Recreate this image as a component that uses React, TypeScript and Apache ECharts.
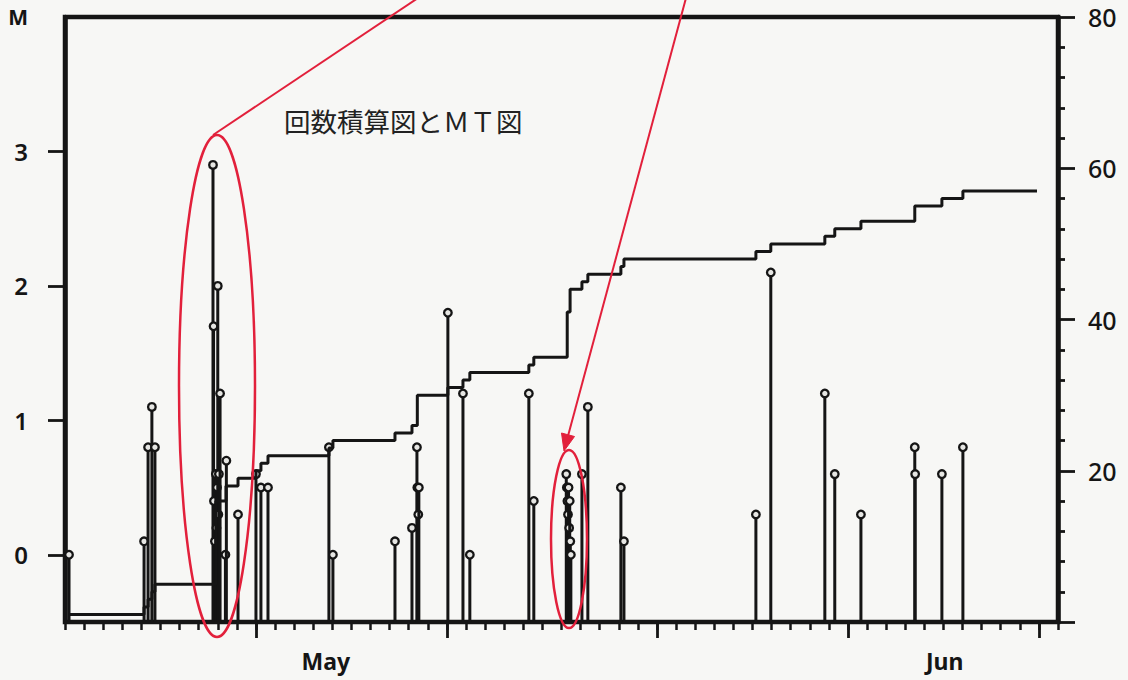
import React, { useEffect, useRef } from "react";
import * as echarts from "echarts";

// Days since May 1 (00:00) and magnitude of each event
const eventDays = [
  0.21,
  4.14, 4.35, 4.55, 4.71,
  7.75, 7.78, 7.8, 7.85, 7.9, 7.93, 7.96, 8.0, 8.03, 8.06, 8.12,
  8.4, 8.45,
  9.06,
  10.0, 10.26, 10.63,
  13.82, 14.03,
  17.28, 18.17, 18.43, 18.45, 18.5, 18.53,
  20.05, 20.84, 21.2,
  24.29, 24.55,
  26.25, 26.28, 26.31, 26.34, 26.37, 26.4, 26.43, 26.46, 26.49,
  27.07, 27.38,
  29.11, 29.27,
  36.18, 36.96, 39.79, 40.31, 41.68, 44.5, 44.52, 45.92, 47.02,
];
const eventMags = [
  0.0,
  0.1, 0.8, 1.1, 0.8,
  2.9, 1.7, 0.4, 0.1, 0.6, 0.2, 0.5, 2.0, 0.3, 0.6, 1.2,
  0.0, 0.7,
  0.3,
  0.6, 0.5, 0.5,
  0.8, 0.0,
  0.1, 0.2, 0.8, 0.5, 0.3, 0.5,
  1.8, 1.2, 0.0,
  1.2, 0.4,
  0.6, 0.5, 0.4, 0.3, 0.5, 0.2, 0.4, 0.1, 0.0,
  0.6, 1.1,
  0.5, 0.1,
  0.3, 2.1, 1.2, 0.6, 0.3, 0.8, 0.6, 0.6, 0.8,
];

// Cumulative number of events (step line, right axis)
const countDays = [
  0.21, 4.14, 4.35, 4.55, 4.71, 7.9, 8.43, 9.06, 10.0, 10.26, 10.63,
  13.82, 14.03, 17.28, 18.17, 18.45, 20.05, 20.84, 21.2, 24.29, 24.55,
  26.3, 26.45, 27.07, 27.38, 29.11, 29.27, 36.18, 36.96, 39.79, 40.31,
  41.68, 44.5, 45.92, 47.02, 50.9,
];
const countTotals = [
  1, 2, 3, 4, 5, 16, 18, 19, 20, 21, 22,
  23, 24, 25, 26, 30, 31, 32, 33, 34, 35,
  41, 44, 45, 46, 47, 48, 49, 50, 51, 52,
  53, 55, 56, 57, 57,
];

// Axes
const majorTickDays = [10, 20, 31, 41, 51];
const monthLabelDays = [13.66, 46.07];
const monthLabels = ["May", "Jun"];
const magTicks = [0, 1, 2, 3];
const magLabelValues = [0, 1, 2, 3, 4];
const countAxisMax = 80;

const INK = "#151515";
const RED = "#e2203b";
const FONT = "'Noto Sans', 'DejaVu Sans', sans-serif";

export default function App() {
  const ref = useRef<HTMLDivElement>(null);

  useEffect(() => {
    const chart = echarts.init(ref.current!, null, { renderer: "svg" });

    const arrowTip = [564, 451];
    const option: any = {
      animation: false,
      backgroundColor: "#f7f7f5",
      grid: {
        left: 65,
        right: 70,
        top: 17,
        bottom: 58,
        show: true,
        borderColor: INK,
        borderWidth: 4.5,
        backgroundColor: "transparent",
        containLabel: false,
        outerBoundsMode: "none",
      },
      xAxis: [
        {
          type: "value",
          min: 0,
          max: 52,
          interval: 1,
          position: "bottom",
          axisLine: { show: true, onZero: false, lineStyle: { color: INK, width: 4 } },
          axisTick: { show: true, length: 8, lineStyle: { color: INK, width: 2.5 } },
          axisLabel: {
            show: true,
            customValues: monthLabelDays,
            margin: 27,
            fontSize: 23,
            fontWeight: "bold",
            fontFamily: FONT,
            color: INK,
            formatter: (v: number) => {
              let best = 0;
              monthLabelDays.forEach((d, i) => {
                if (Math.abs(d - v) < Math.abs(monthLabelDays[best] - v)) best = i;
              });
              return monthLabels[best];
            },
          },
          splitLine: { show: false },
        },
        {
          type: "value",
          min: 0,
          max: 52,
          position: "bottom",
          axisLine: { show: false, onZero: false },
          axisTick: {
            show: true,
            customValues: majorTickDays,
            length: 16,
            lineStyle: { color: INK, width: 2.8 },
          },
          axisLabel: { show: false },
          splitLine: { show: false },
        },
      ],
      yAxis: [
        {
          type: "value",
          min: -0.5,
          max: 4,
          position: "left",
          axisLine: { show: true, onZero: false, lineStyle: { color: INK, width: 4.5 } },
          axisTick: {
            show: true,
            customValues: magTicks,
            length: 17,
            lineStyle: { color: INK, width: 2.8 },
          },
          axisLabel: {
            show: true,
            customValues: magLabelValues,
            margin: 37,
            fontSize: 24,
            fontFamily: FONT,
            fontWeight: 600,
            color: INK,
            formatter: (v: number) => (v === 4 ? "{m|M}" : String(v)),
            rich: {
              m: { fontSize: 21, fontWeight: "bold", fontFamily: FONT, color: INK },
            },
          },
          splitLine: { show: false },
        },
        {
          type: "value",
          min: 0,
          max: countAxisMax,
          interval: 20,
          position: "right",
          axisLine: { show: true, onZero: false, lineStyle: { color: INK, width: 4.5 } },
          axisTick: { show: true, length: 17, lineStyle: { color: INK, width: 2.8 } },
          minorTick: {
            show: true,
            splitNumber: 5,
            length: 7,
            lineStyle: { color: INK, width: 2.8 },
          },
          axisLabel: {
            show: true,
            margin: 30,
            fontSize: 25,
            fontFamily: FONT,
            fontWeight: 500,
            color: INK,
            formatter: (v: number) => (v === 0 ? "" : String(v)),
          },
          splitLine: { show: false },
          minorSplitLine: { show: false },
        },
      ],
      series: [
        {
          type: "custom",
          name: "MT",
          xAxisIndex: 0,
          yAxisIndex: 0,
          clip: false,
          z: 3,
          data: eventDays.map((d, i) => [d, eventMags[i]]),
          encode: { x: 0, y: 1 },
          renderItem: (params: any, api: any) => {
            const x = api.value(0);
            const m = api.value(1);
            const top = api.coord([x, m]);
            const base = api.coord([x, -0.5]);
            return {
              type: "group",
              children: [
                {
                  type: "line",
                  shape: { x1: top[0], y1: top[1], x2: base[0], y2: base[1] },
                  style: { stroke: INK, lineWidth: 3 },
                },
                {
                  type: "circle",
                  shape: { cx: top[0], cy: top[1], r: 3.8 },
                  style: { fill: "#e6e6e3", stroke: INK, lineWidth: 2.3 },
                },
              ],
            };
          },
        },
        {
          type: "line",
          name: "cumulative",
          xAxisIndex: 0,
          yAxisIndex: 1,
          step: "end",
          symbol: "none",
          z: 4,
          lineStyle: { color: INK, width: 3 },
          data: countDays.map((d, i) => [d, countTotals[i]]),
        },
      ],
      graphic: [
        {
          type: "text",
          x: 284,
          y: 107,
          z: 20,
          style: {
            text: "回数積算図とＭＴ図",
            fontSize: 26.5,
            fontFamily: "'Noto Sans CJK JP', sans-serif",
            fill: "#222",
          },
        },
        {
          type: "ellipse",
          z: 30,
          shape: { cx: 217, cy: 386, rx: 38, ry: 251 },
          style: { fill: "none", stroke: RED, lineWidth: 2.5 },
        },
        {
          type: "line",
          z: 30,
          shape: { x1: 213, y1: 135, x2: 418, y2: -2 },
          style: { stroke: RED, lineWidth: 2 },
        },
        {
          type: "ellipse",
          z: 30,
          shape: { cx: 569, cy: 539, rx: 18, ry: 89 },
          style: { fill: "none", stroke: RED, lineWidth: 2.5 },
        },
        {
          type: "line",
          z: 30,
          shape: { x1: 686, y1: -2, x2: 568, y2: 436 },
          style: { stroke: RED, lineWidth: 2 },
        },
        {
          type: "polygon",
          z: 30,
          shape: {
            points: [
              arrowTip,
              [574.5, 436.5],
              [561.5, 433],
            ],
          },
          style: { fill: RED, stroke: RED, lineWidth: 1 },
        },
      ],
    };

    chart.setOption(option);
    return () => chart.dispose();
  }, []);

  return (
    <div
      ref={ref}
      style={{ position: "fixed", left: 0, top: 0, width: 1128, height: 680 }}
    />
  );
}
